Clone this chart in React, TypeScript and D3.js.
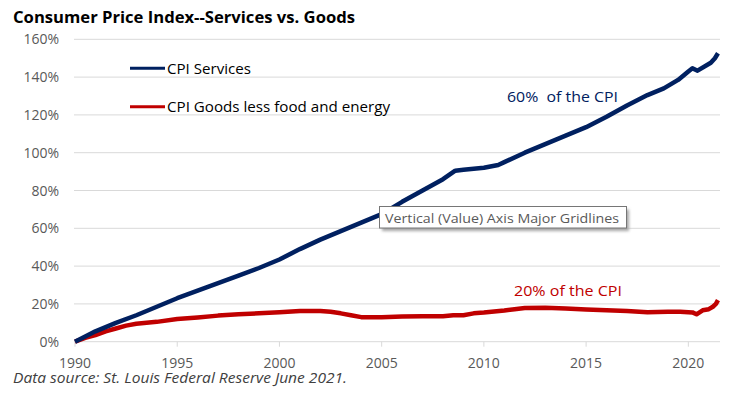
import React from "react";
import * as d3 from "d3";

const servicesYears = [1990, 1991, 1992, 1993, 1994, 1995, 1996, 1997, 1998, 1999, 2000, 2001, 2002, 2003, 2004, 2005, 2006, 2007, 2008, 2008.6, 2009, 2010, 2010.7, 2011, 2012, 2013, 2014, 2015, 2016, 2017, 2018, 2018.8, 2019.5, 2020, 2020.2, 2020.45, 2021.1, 2021.3, 2021.45];
const servicesValues = [0, 5.5, 10, 14, 18.5, 23, 27, 31, 35, 39, 43.5, 49, 54, 58.5, 63, 67.5, 74, 80, 86, 90.5, 91, 92, 93.5, 95, 100, 104.5, 109, 113.5, 119, 125, 130.5, 134, 138.5, 143, 144.7, 143.4, 147.6, 150, 152.6];

const goodsYears = [1990, 1990.5, 1991, 1991.5, 1992, 1992.5, 1993, 1994, 1995, 1996, 1997, 1998, 1999, 2000, 2001, 2002, 2002.5, 2003, 2003.5, 2004, 2005, 2006, 2007, 2008, 2008.5, 2009, 2009.5, 2010, 2011, 2011.5, 2012, 2013, 2014, 2015, 2016, 2017, 2018, 2019, 2019.6, 2020.2, 2020.4, 2020.7, 2021, 2021.2, 2021.35, 2021.45];
const goodsValues = [0, 2, 3.5, 5.5, 7, 8.5, 9.5, 10.5, 12, 12.8, 13.8, 14.5, 15, 15.6, 16.2, 16.3, 15.8, 15, 14, 13, 13, 13.3, 13.5, 13.5, 14, 14, 15, 15.4, 16.5, 17.2, 17.8, 18, 17.6, 17, 16.6, 16.2, 15.6, 15.8, 15.9, 15.5, 14.5, 16.6, 17.2, 18.5, 20, 22];

const yTicks = [0, 20, 40, 60, 80, 100, 120, 140, 160];
const xTicks = [1990, 1995, 2000, 2005, 2010, 2015, 2020];

const FONT = "'Open Sans', 'Noto Sans', sans-serif";
const NAVY = "#002060";
const RED = "#c00000";

export default function App() {
  const x = d3.scaleLinear().domain([1990, 2021.5]).range([75, 719]);
  const y = d3.scaleLinear().domain([0, 160]).range([341.7, 39.3]);

  const services = servicesYears.map((yr, i) => [yr, servicesValues[i]] as [number, number]);
  const goods = goodsYears.map((yr, i) => [yr, goodsValues[i]] as [number, number]);
  const line = d3
    .line<[number, number]>()
    .x((d) => x(d[0]))
    .y((d) => y(d[1]));

  return (
    <svg
      width={738}
      height={398}
      style={{ position: "absolute", left: 0, top: 0, display: "block", background: "#fff" }}
    >
      <defs>
        <filter id="blur" x="-10%" y="-50%" width="120%" height="200%">
          <feGaussianBlur stdDeviation="1.5" />
        </filter>
      </defs>
      <text x={13} y={23} fontFamily={FONT} fontWeight={700} fontSize={16} fill="#000" textLength={342} lengthAdjust="spacingAndGlyphs">
        Consumer Price Index--Services vs. Goods
      </text>

      {yTicks.filter((t) => t > 0).map((t) => (
        <line key={t} x1={74} x2={720} y1={y(t)} y2={y(t)} stroke="#d9d9d9" strokeWidth={1} />
      ))}
      <line x1={74} x2={720} y1={y(0)} y2={y(0)} stroke="#d9d9d9" strokeWidth={1} />
      {xTicks.map((t) => (
        <line key={t} x1={x(t)} x2={x(t)} y1={y(0)} y2={y(0) + 5} stroke="#d9d9d9" strokeWidth={1} />
      ))}

      {yTicks.map((t) => (
        <text key={t} x={59} y={y(t) + 5} textAnchor="end" fontFamily={FONT} fontSize={14} fill="#595959">
          {t}%
        </text>
      ))}
      {xTicks.map((t) => (
        <text key={t} x={x(t)} y={368} textAnchor="middle" fontFamily={FONT} fontSize={14} fill="#595959">
          {t}
        </text>
      ))}

      <path d={line(goods) || ""} fill="none" stroke={RED} strokeWidth={4.5} strokeLinejoin="round" />
      <path d={line(services) || ""} fill="none" stroke={NAVY} strokeWidth={4.5} strokeLinejoin="round" />

      <line x1={130} x2={165} y1={68.3} y2={68.3} stroke={NAVY} strokeWidth={3} />
      <text x={167} y={73.5} fontFamily={FONT} fontSize={14.5} fill="#000" textLength={84} lengthAdjust="spacingAndGlyphs">
        CPI Services
      </text>
      <line x1={130} x2={165} y1={106.7} y2={106.7} stroke={RED} strokeWidth={3} />
      <text x={167} y={112} fontFamily={FONT} fontSize={14.5} fill="#000" textLength={223} lengthAdjust="spacingAndGlyphs">
        CPI Goods less food and energy
      </text>

      <text x={507} y={102} fontFamily={FONT} fontSize={14.5} fill={NAVY} textLength={111} lengthAdjust="spacingAndGlyphs" style={{ whiteSpace: "pre" }}>
        60%  of the CPI
      </text>
      <text x={514} y={296} fontFamily={FONT} fontSize={14.5} fill={RED} textLength={108} lengthAdjust="spacingAndGlyphs">
        20% of the CPI
      </text>

      <rect x={382} y={209.5} width={247} height={21.5} fill="#a6a6a6" filter="url(#blur)" />
      <rect x={379.5} y={206.5} width={247} height={21.5} fill="#fff" stroke="#767676" strokeWidth={1} />
      <text x={385} y={222.5} fontFamily={FONT} fontSize={13.5} fill="#595959" textLength={234} lengthAdjust="spacingAndGlyphs">
        Vertical (Value) Axis Major Gridlines
      </text>

      <text x={13} y={383} fontFamily={FONT} fontStyle="italic" fontSize={14} fill="#404040" textLength={334} lengthAdjust="spacingAndGlyphs">
        Data source: St. Louis Federal Reserve June 2021.
      </text>
    </svg>
  );
}
